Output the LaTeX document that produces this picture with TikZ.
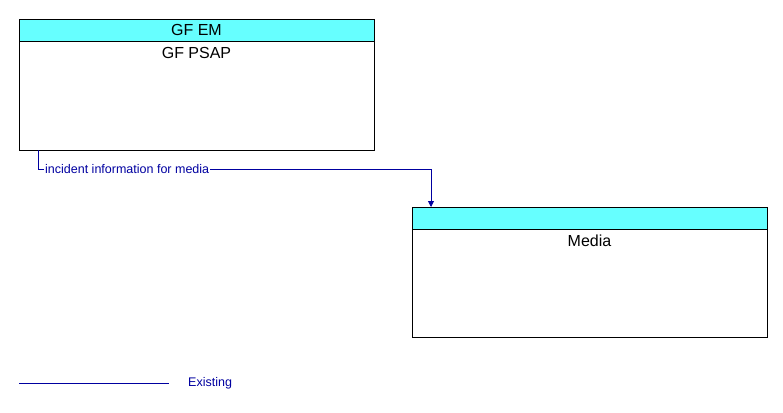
\documentclass[tikz,border=0pt]{standalone}
\usepackage{fontspec}
\setmainfont{Liberation Sans}
\usetikzlibrary{arrows.meta}
\definecolor{hdr}{RGB}{102,255,255}
\definecolor{flow}{RGB}{0,0,160}
\tikzset{
  boxbody/.style={draw=black,fill=white,line width=0.8pt},
  boxhead/.style={draw=black,fill=hdr,line width=0.8pt},
  title/.style={font=\fontsize{16}{16}\selectfont,anchor=center},
  flowline/.style={draw=flow,line width=0.8pt},
  flowlabel/.style={font=\fontsize{12.5}{12.5}\selectfont,text=flow,inner sep=1pt}
}
\begin{document}
\begin{tikzpicture}[x=1pt,y=-1pt]
\useasboundingbox (0,0) rectangle (783,412);
% GF PSAP
\draw[boxbody] (19,19) rectangle (374,150);
\draw[boxhead] (19,19) rectangle (374,41);
\node[title] (em) at (196.5,30) {GF EM};
\node[title] (psap) at (196.5,53) {GF PSAP};
% Media
\draw[boxbody] (412,207) rectangle (767,337);
\draw[boxhead] (412,207) rectangle (767,229);
\node[title] (media) at (589.5,241) {Media};
\coordinate (s) at (38,150);
\coordinate (t) at (431,207);
\node[flowlabel,anchor=west] (lbl) at (44,169) {incident information for media};
\draw[flowline,-{Triangle[length=6pt,width=6pt]}] (s) |- (lbl.west) (lbl.east) -| (t);
\draw[flowline] (s) |- (lbl.west);
% legend
\coordinate (l1) at (19,383);
\coordinate (l2) at (169,383);
\draw[flowline] (l1) -- (l2);
\node[flowlabel,anchor=west] (ex) at (187,383) {Existing};
\end{tikzpicture}
\end{document}
